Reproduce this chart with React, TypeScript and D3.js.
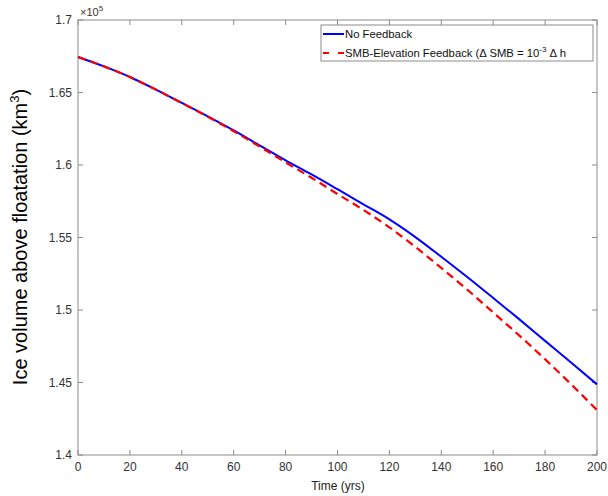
import React from "react";
import * as d3 from "d3";

const years = [0, 10, 20, 30, 40, 50, 60, 70, 80, 90, 100, 110, 120, 130, 140, 150, 160, 170, 180, 190, 200];
const noFeedback = [1.6745, 1.668, 1.6607, 1.652, 1.6428, 1.6335, 1.6238, 1.6135, 1.6032, 1.5935, 1.5833, 1.5729, 1.5625, 1.5503, 1.5367, 1.5227, 1.5083, 1.4937, 1.4787, 1.4638, 1.4487];
const smbFeedback = [1.6745, 1.668, 1.6607, 1.652, 1.6428, 1.6333, 1.6233, 1.6127, 1.6018, 1.5912, 1.58, 1.569, 1.557, 1.5435, 1.529, 1.514, 1.4983, 1.4825, 1.466, 1.4488, 1.431];
const xTicks = [0, 20, 40, 60, 80, 100, 120, 140, 160, 180, 200];
const yTicks = [1.4, 1.45, 1.5, 1.55, 1.6, 1.65, 1.7];
const yTickLabels = ["1.4", "1.45", "1.5", "1.55", "1.6", "1.65", "1.7"];

const W = 608, H = 496;
const L = 78, R = 597, T = 20, B = 455;
const FONT = "'Liberation Sans', Arial, Helvetica, sans-serif";

export default function App() {
  const x = d3.scaleLinear().domain([0, 200]).range([L, R]);
  const y = d3.scaleLinear().domain([1.4, 1.7]).range([B, T]);
  const line = d3.line<number>().x((_, i) => x(years[i])).y((d) => y(d)).curve(d3.curveMonotoneX);
  const axisColor = "#8c8c8c";
  const textColor = "#333";
  const tl = 5;
  return (
    <svg width={W} height={H} style={{ position: "absolute", left: 0, top: 0, background: "#fff" }}>
      <rect x={0} y={0} width={W} height={H} fill="#fff" />
      {xTicks.map((t) => (
        <g key={"xt" + t}>
          <line x1={x(t)} x2={x(t)} y1={B} y2={B - tl} stroke={axisColor} strokeWidth={1} />
          <line x1={x(t)} x2={x(t)} y1={T} y2={T + tl} stroke={axisColor} strokeWidth={1} />
          <text x={x(t)} y={471} textAnchor="middle" fontFamily={FONT} fontSize={12} fill={textColor}>{t}</text>
        </g>
      ))}
      {yTicks.map((t, i) => (
        <g key={"yt" + t}>
          <line x1={L} x2={L + tl} y1={y(t)} y2={y(t)} stroke={axisColor} strokeWidth={1} />
          <line x1={R} x2={R - tl} y1={y(t)} y2={y(t)} stroke={axisColor} strokeWidth={1} />
          <text x={72} y={y(t) + 4} textAnchor="end" fontFamily={FONT} fontSize={12} fill={textColor}>{yTickLabels[i]}</text>
        </g>
      ))}
      <rect x={L} y={T} width={R - L} height={B - T} fill="none" stroke={axisColor} strokeWidth={1} />
      <text x={80} y={16} fontFamily={FONT} fontSize={11} fill={textColor}>
        ×10<tspan dy={-5} fontSize={8}>5</tspan>
      </text>
      <path d={line(noFeedback) || ""} fill="none" stroke="#0000ff" strokeWidth={2} />
      <path d={line(smbFeedback) || ""} fill="none" stroke="#ff0000" strokeWidth={2.2} strokeDasharray="8,5" />
      <text x={338} y={490} textAnchor="middle" fontFamily={FONT} fontSize={12} fill="#222">Time (yrs)</text>
      <text transform={`translate(27,${237}) rotate(-90)`} textAnchor="middle" fontFamily={FONT} fontSize={20} fill="#000">
        Ice volume above floatation (km<tspan dy={-8} fontSize={13}>3</tspan><tspan dy={8}>)</tspan>
      </text>
      <rect x={321} y={25} width={272} height={36} fill="#fff" stroke={axisColor} strokeWidth={1} />
      <line x1={323} x2={344} y1={34} y2={34} stroke="#0000ff" strokeWidth={2} />
      <line x1={323} x2={344} y1={53} y2={53} stroke="#ff0000" strokeWidth={2.2} strokeDasharray="6,9" />
      <text x={345} y={38} fontFamily={FONT} fontSize={11.3} fill="#111">No Feedback</text>
      <text x={345} y={57} fontFamily={FONT} fontSize={11.3} fill="#111">
        SMB-Elevation Feedback (Δ SMB = 10<tspan dy={-5} fontSize={8}>-3</tspan><tspan dy={5}> Δ h</tspan>
      </text>
    </svg>
  );
}
